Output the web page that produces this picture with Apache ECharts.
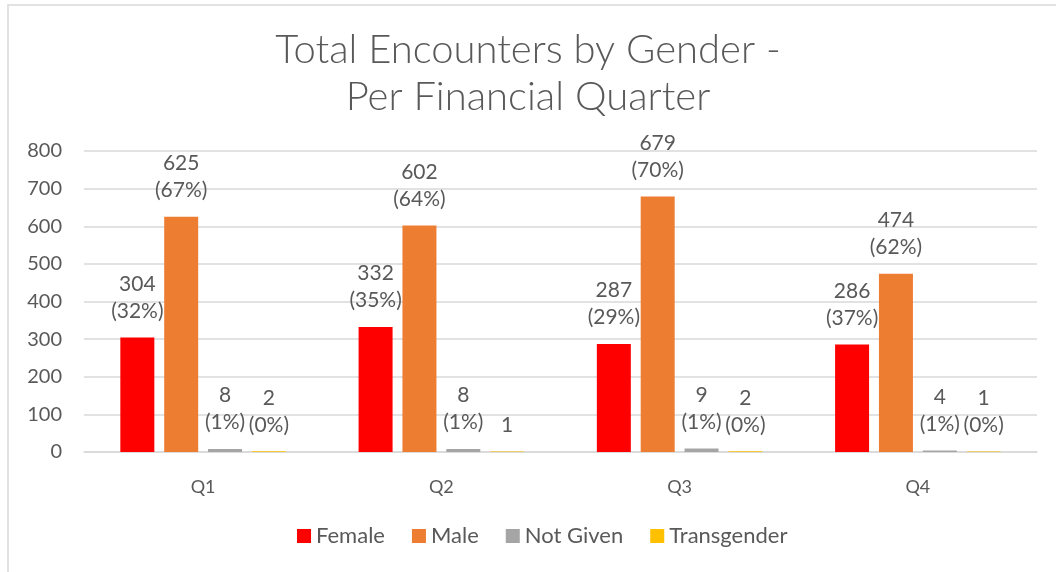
<!DOCTYPE html>
<html>
<head>
<meta charset="utf-8">
<script src="https://cdn.jsdelivr.net/npm/echarts@6/dist/echarts.min.js"></script>
<style>
  html, body { margin: 0; padding: 0; background: #fff; }
  #chart { width: 1056px; height: 572px; }
</style>
</head>
<body>
<div id="chart"></div>
<script>
const quarters = ['Q1', 'Q2', 'Q3', 'Q4'];
const female = [304, 332, 287, 286];
const male = [625, 602, 679, 474];
const notGiven = [8, 8, 9, 4];
const transgender = [2, 1, 2, 1];
// percent text shown under each value ('' = no percent shown)
const femalePct = ['32%', '35%', '29%', '37%'];
const malePct = ['67%', '64%', '70%', '62%'];
const notGivenPct = ['1%', '1%', '1%', '1%'];
const transgenderPct = ['0%', '', '0%', '0%'];

const textColor = '#595959';
const font = 'Lato';

function makeSeries(name, values, pcts, color) {
  return {
    name: name,
    type: 'bar',
    data: values,
    barWidth: 34,
    barGap: '29%',
    itemStyle: { color: color },
    label: {
      show: true,
      position: 'top',
      distance: 13,
      color: textColor,
      fontFamily: font,
      fontSize: 21,
      lineHeight: 27,
      formatter: function (p) {
        const pc = pcts[p.dataIndex];
        return pc ? p.value + '\n(' + pc + ')' : String(p.value);
      }
    }
  };
}

const chart = echarts.init(document.getElementById('chart'));
chart.setOption({
  backgroundColor: '#fff',
  animation: false,
  title: {
    text: 'Total Encounters by Gender -\nPer Financial Quarter',
    left: 'center',
    top: 22,
    textStyle: {
      color: textColor,
      fontFamily: font,
      fontWeight: 300,
      fontSize: 40,
      lineHeight: 47
    }
  },
  graphic: [{
    type: 'polyline',
    shape: { points: [[8, 600], [8, 5], [1100, 5]] },
    style: { stroke: '#d9d9d9', lineWidth: 1.5, fill: null }
  }],
  legend: {
    bottom: 20,
    left: 292,
    icon: 'rect',
    itemWidth: 14,
    itemHeight: 14,
    itemGap: 27,
    textStyle: { color: textColor, fontFamily: font, fontSize: 22 }
  },
  grid: { left: 84, right: 19, top: 151, bottom: 120 },
  xAxis: {
    type: 'category',
    data: quarters,
    axisLine: { lineStyle: { color: '#d9d9d9', width: 1.5 } },
    axisTick: { show: false },
    axisLabel: { color: textColor, fontFamily: font, fontSize: 18, margin: 26 }
  },
  yAxis: {
    type: 'value',
    min: 0,
    max: 800,
    interval: 100,
    axisLine: { show: false },
    axisTick: { show: false },
    splitLine: { lineStyle: { color: '#d9d9d9', width: 1.5 } },
    axisLabel: { color: textColor, fontFamily: font, fontSize: 20, margin: 22 }
  },
  series: [
    makeSeries('Female', female, femalePct, '#ff0000'),
    makeSeries('Male', male, malePct, '#ed7d31'),
    makeSeries('Not Given', notGiven, notGivenPct, '#a5a5a5'),
    makeSeries('Transgender', transgender, transgenderPct, '#ffc000')
  ]
});
</script>
</body>
</html>
